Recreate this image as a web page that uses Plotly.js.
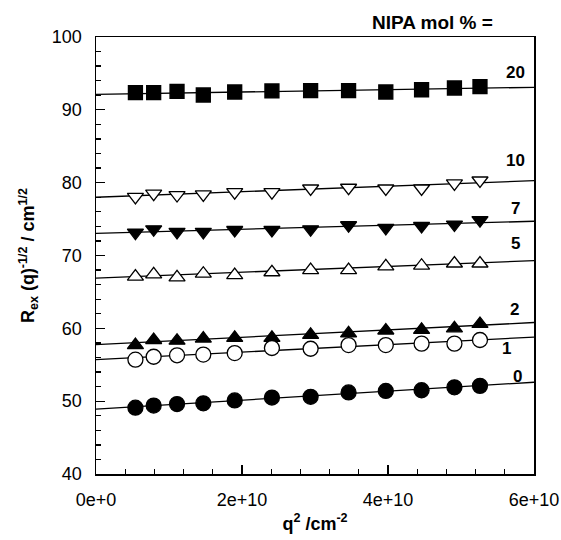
<!DOCTYPE html>
<html>
<head>
<meta charset="utf-8">
<script src="https://cdn.plot.ly/plotly-3.0.1.min.js"></script>
<style>html,body{margin:0;padding:0;background:#fff;}</style>
</head>
<body>
<div id="chart" style="width:561px;height:540px;"></div>
<script>
// q^2 values (cm^-2)
const qsq = [0.54e10, 0.79e10, 1.11e10, 1.47e10, 1.90e10, 2.41e10, 2.94e10, 3.46e10, 3.97e10, 4.46e10, 4.91e10, 5.26e10];

// NIPA mol % series labels
const seriesNames = ["20", "10", "7", "5", "2", "1", "0"];

// R_ex(q)^-1/2 values for each series
const y20 = [92.35, 92.35, 92.54, 92.04, 92.45, 92.59, 92.63, 92.63, 92.45, 92.76, 93.0, 93.18];
const y10 = [78.05, 78.5, 78.3, 78.4, 78.7, 78.7, 79.2, 79.3, 79.2, 79.2, 79.9, 80.3];
const y7  = [73.15, 73.6, 73.25, 73.25, 73.5, 73.5, 73.6, 74.15, 73.8, 74.05, 74.25, 74.85];
const y5  = [67.1, 67.4, 67.0, 67.5, 67.3, 67.7, 68.0, 68.0, 68.5, 68.6, 68.9, 68.9];
const y2  = [57.7, 58.4, 58.3, 58.6, 58.7, 58.7, 59.1, 59.3, 59.7, 59.8, 60.0, 60.6];
const y1  = [55.7, 56.1, 56.3, 56.4, 56.6, 57.3, 57.2, 57.7, 57.7, 57.9, 57.9, 58.4];
const y0  = [49.1, 49.4, 49.6, 49.7, 50.1, 50.5, 50.6, 51.2, 51.4, 51.5, 51.9, 52.1];

// fitted straight lines: value at q^2 = 0 and at q^2 = 6e10
const fitStart = [92.13, 78.0, 73.05, 66.9, 57.75, 55.7, 48.9];
const fitEnd   = [93.09, 80.27, 74.7, 69.3, 60.8, 58.8, 52.6];
const fitX = [0, 6e10];

// label positions (data coords) for the series names
const labelX = [5.75e10, 5.75e10, 5.75e10, 5.75e10, 5.73e10, 5.63e10, 5.78e10];
const labelY = [95.1, 83.0, 76.5, 71.6, 62.6, 57.2, 53.4];

// tick labels
const xTickVals = [0, 2e10, 4e10, 6e10];
const xTickText = ["0e+0", "2e+10", "4e+10", "6e+10"];
const yTickVals = [40, 50, 60, 70, 80, 90, 100];
const yTickText = ["40", "50", "60", "70", "80", "90", "100"];

const ySeries = [y20, y10, y7, y5, y2, y1, y0];
const symbols = ["square", "triangle-down", "triangle-down", "triangle-up", "triangle-up", "circle", "circle"];
const filled  = [true, false, true, false, true, false, true];
const sizes   = [14, 14, 14, 14, 14, 15, 15];

const traces = [];
for (let i = 0; i < ySeries.length; i++) {
  traces.push({
    x: fitX, y: [fitStart[i], fitEnd[i]], mode: "lines",
    line: {color: "#000", width: 1.3}, hoverinfo: "skip", showlegend: false
  });
}
for (let i = 0; i < ySeries.length; i++) {
  traces.push({
    x: qsq, y: ySeries[i], mode: "markers", name: seriesNames[i], showlegend: false,
    marker: {
      symbol: symbols[i], size: sizes[i],
      color: filled[i] ? "#000" : "#fff",
      line: {color: "#000", width: 1.3}
    }
  });
}

const FAM = "Liberation Sans, Arial, sans-serif";
const annotations = seriesNames.map((n, i) => ({
  x: labelX[i], y: labelY[i], xref: "x", yref: "y", text: "<b>" + n + "</b>",
  xanchor: "center", yanchor: "middle",
  showarrow: false, font: {family: FAM, size: 17, color: "#000"}
}));
annotations.push({
  x: (432 - 96) / (534 - 96), y: 1 + (37 - 22) / (474 - 37),
  xref: "paper", yref: "paper", text: "<b>NIPA mol % =</b>",
  xanchor: "center", yanchor: "middle",
  showarrow: false, font: {family: FAM, size: 19, color: "#000"}
});

const font = {family: FAM, size: 18, color: "#000"};

const layout = {
  width: 561, height: 540,
  margin: {l: 96, r: 27, t: 37, b: 66},
  paper_bgcolor: "#fff", plot_bgcolor: "#fff",
  font: font,
  showlegend: false,
  xaxis: {
    range: [0, 6e10], tickvals: xTickVals, ticktext: xTickText,
    ticks: "inside", ticklen: 9, tickwidth: 1.3, tickcolor: "#000",
    minor: {dtick: 0.4e10, ticks: "inside", ticklen: 5, tickwidth: 1.3, tickcolor: "#000"},
    showline: true, linecolor: "#000", linewidth: 1.5, mirror: true,
    showgrid: false, zeroline: false, ticklabelstandoff: 9,
    tickfont: font,
    title: {text: "<b>q<sup>2</sup> /cm<sup>-2</sup></b>", font: {family: FAM, size: 18, color: "#000"}, standoff: 8}
  },
  yaxis: {
    range: [40, 100], tickvals: yTickVals, ticktext: yTickText,
    ticks: "inside", ticklen: 9, tickwidth: 1.3, tickcolor: "#000",
    minor: {dtick: 2, ticks: "inside", ticklen: 5, tickwidth: 1.3, tickcolor: "#000"},
    showline: true, linecolor: "#000", linewidth: 1.5, mirror: true,
    showgrid: false, zeroline: false, ticklabelstandoff: 9,
    tickfont: font,
    title: {text: "<b>R<sub>ex</sub> (q)<sup>-1/2</sup> / cm<sup>1/2</sup></b>", font: {family: FAM, size: 18, color: "#000"}, standoff: 12}
  },
  annotations: annotations
};

Plotly.newPlot("chart", traces, layout, {displayModeBar: false, staticPlot: true});
</script>
</body>
</html>
